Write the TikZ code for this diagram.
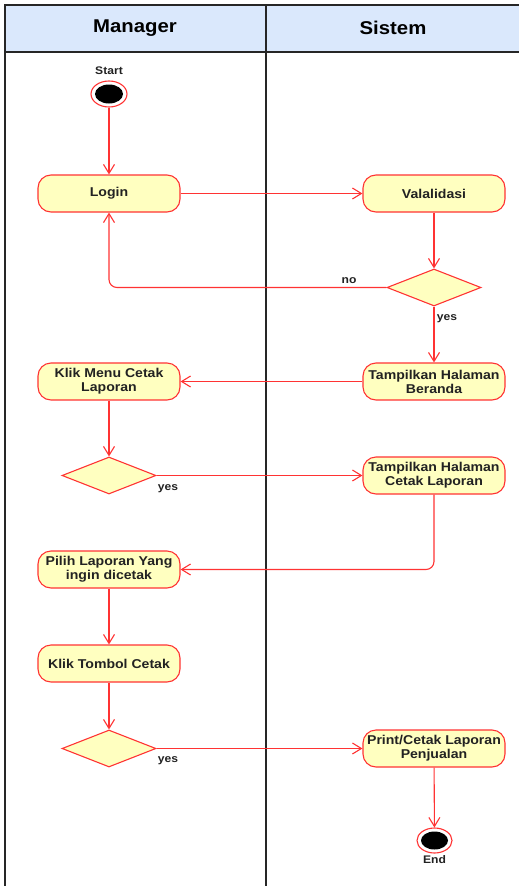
\documentclass[tikz,border=0pt]{standalone}
\usepackage{fontspec}
\setmainfont{Liberation Sans}[FakeStretch=1.1]
\usetikzlibrary{arrows.meta,shapes.geometric}
\definecolor{lanefill}{HTML}{DAE8FC}
\definecolor{actfill}{HTML}{FFFFC0}
\definecolor{actline}{HTML}{FF3333}
\definecolor{txt}{HTML}{222222}
\tikzset{
  act/.style={draw=actline, fill=actfill, line width=1.1pt, rounded corners=13pt,
    minimum width=142pt, minimum height=37pt, inner sep=0pt, align=center,
    font=\fontsize{12.8}{14}\selectfont\bfseries, text=txt},
  dec/.style={draw=actline, fill=actfill, line width=1.1pt, diamond, aspect=2.54,
    minimum width=94pt, minimum height=37pt, inner sep=0pt},
  flow/.style={draw=actline, line width=1.1pt, -{Straight Barb[length=9pt,width=11pt]}},
  lbl/.style={font=\fontsize{11}{12}\selectfont\bfseries, text=txt, inner sep=0pt},
  lane/.style={draw=black!85, line width=1.2pt},
}
\begin{document}
\begin{tikzpicture}[x=1pt,y=-1pt]
\useasboundingbox (0,0) rectangle (519,886);
% swimlanes
\fill[lanefill] (5,5) rectangle (519,52);
\draw[lane] (519,5) -- (5,5) -- (5,886);
\draw[lane] (5,52) -- (519,52);
\draw[lane] (266,5) -- (266,886);
\node[font=\fontsize{18.5}{20}\selectfont\bfseries, text=black] (hm) at (135,28) {Manager};
\node[font=\fontsize{18.5}{20}\selectfont\bfseries, text=black] (hs) at (393,28) {Sistem};
% start
\node[draw=actline, line width=1.1pt, ellipse, minimum width=36pt, minimum height=26pt, inner sep=0pt] (start) at (109,94) {};
\fill[black] (start.center) ellipse [x radius=14pt, y radius=9.5pt];
\node[lbl] (startl) at (109,71) {Start};
% activities
\node[act] (login) at (109,193.5) {Login};
\node[act] (valid) at (434,193.5) {Valalidasi};
\node[dec] (d1) at (434,287.5) {};
\node[act] (beranda) at (434,381.5) {Tampilkan Halaman\\Beranda};
\node[act] (menu) at (109,381.5) {Klik Menu Cetak\\Laporan};
\node[dec] (d2) at (109,475.5) {};
\node[act] (cetak) at (434,475.5) {Tampilkan Halaman\\Cetak Laporan};
\node[act] (pilih) at (109,569.5) {Pilih Laporan Yang\\ingin dicetak};
\node[act] (tombol) at (109,663.5) {Klik Tombol Cetak};
\node[dec] (d3) at (109,748.5) {};
\node[act] (print) at (434,748.5) {Print/Cetak Laporan\\Penjualan};
% end
\node[draw=actline, line width=1.1pt, ellipse, minimum width=35pt, minimum height=25pt, inner sep=0pt] (end) at (434.5,840.5) {};
\fill[black] (end.center) ellipse [x radius=13.5pt, y radius=9pt];
\node[lbl] (endl) at (434.5,860) {End};
% flows
\draw[flow] (start) -- (login);
\draw[flow] (login) -- (valid);
\draw[flow] (valid) -- (d1);
\draw[flow, rounded corners=8pt] (d1.west) -| (login.south);
\draw[flow] (d1) -- (beranda);
\draw[flow] (beranda) -- (menu);
\draw[flow] (menu) -- (d2);
\draw[flow] (d2.east) -- (cetak.west);
\draw[flow, rounded corners=8pt] (cetak.south) |- (pilih.east);
\draw[flow] (pilih) -- (tombol);
\draw[flow] (tombol) -- (d3);
\draw[flow] (d3.east) -- (print.west);
\draw[flow] (print) -- (end);
% labels
\node[lbl] (no1) at (349,281) {no};
\node[lbl] (yes1) at (447,319) {yes};
\node[lbl] (yes2) at (168,489) {yes};
\node[lbl] (yes3) at (168,761) {yes};
\end{tikzpicture}
\end{document}
